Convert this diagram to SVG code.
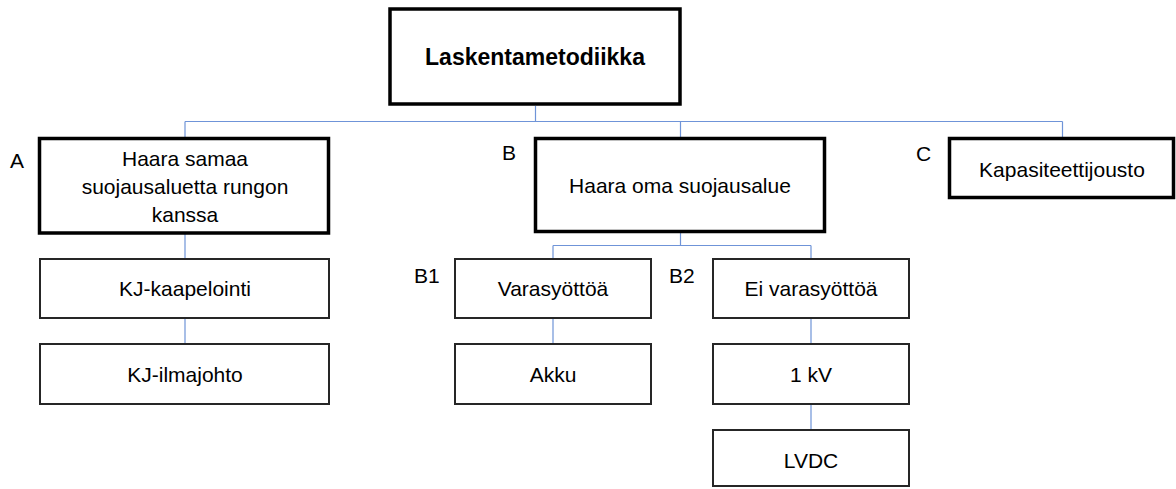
<svg xmlns="http://www.w3.org/2000/svg" width="1176" height="489" viewBox="0 0 1176 489">
<style>
.thick{fill:#fff;stroke:#000;stroke-width:3.5}
.thin{fill:#fff;stroke:#262626;stroke-width:2}
.t{font-family:"Liberation Sans",Arial,sans-serif;font-size:21px;fill:#000;text-anchor:middle}
.lab{font-family:"Liberation Sans",Arial,sans-serif;font-size:21px;fill:#000}
.b{font-weight:bold;font-size:23px}
.c{fill:none;stroke:#6F94D8;stroke-width:1.2}
</style>
<rect width="1176" height="489" fill="#fff"/>
<g id="connectors">
<path class="c" d="M535.5 106V121.5M185 121.5H1062.5M185 121.5V137M680.5 121.5V137M1062.5 121.5V137"/>
<path class="c" d="M185 234V258M185 318V343"/>
<path class="c" d="M680.5 233V245.5M553 245.5H811M553 245.5V258M811 245.5V258"/>
<path class="c" d="M553 318V343M811 318V343M811 404V430"/>
</g>
<g id="root"><rect class="thick" x="390" y="9" width="290" height="95"/><text class="t b" x="535" y="65">Laskentametodiikka</text></g>
<g id="A"><text class="lab" x="10" y="168">A</text><rect class="thick" x="39.5" y="138.5" width="289" height="94.5"/>
<text class="t" x="185" y="166">Haara samaa</text><text class="t" x="185" y="194">suojausaluetta rungon</text><text class="t" x="185" y="222">kanssa</text></g>
<g id="A1"><rect class="thin" x="40" y="259" width="289" height="59"/><text class="t" x="185" y="296">KJ-kaapelointi</text></g>
<g id="A2"><rect class="thin" x="40" y="344" width="289" height="60"/><text class="t" x="185" y="382">KJ-ilmajohto</text></g>
<g id="B"><text class="lab" x="502" y="160">B</text><rect class="thick" x="535.5" y="138.5" width="289" height="93"/><text class="t" x="680" y="193">Haara oma suojausalue</text></g>
<g id="C"><text class="lab" x="916" y="161">C</text><rect class="thick" x="949.5" y="138.5" width="224" height="59"/><text class="t" x="1062" y="177">Kapasiteettijousto</text></g>
<g id="B1"><text class="lab" x="414" y="283">B1</text><rect class="thin" x="455" y="259" width="196" height="59"/><text class="t" x="553" y="296">Varasyöttöä</text></g>
<g id="B1a"><rect class="thin" x="455" y="344" width="196" height="60"/><text class="t" x="553" y="382">Akku</text></g>
<g id="B2"><text class="lab" x="669" y="283">B2</text><rect class="thin" x="713" y="259" width="196" height="59"/><text class="t" x="811" y="296">Ei varasyöttöä</text></g>
<g id="B2a"><rect class="thin" x="713" y="344" width="196" height="60"/><text class="t" x="811" y="382">1 kV</text></g>
<g id="B2b"><rect class="thin" x="713" y="430" width="196" height="56"/><text class="t" x="811" y="468">LVDC</text></g>
</svg>
